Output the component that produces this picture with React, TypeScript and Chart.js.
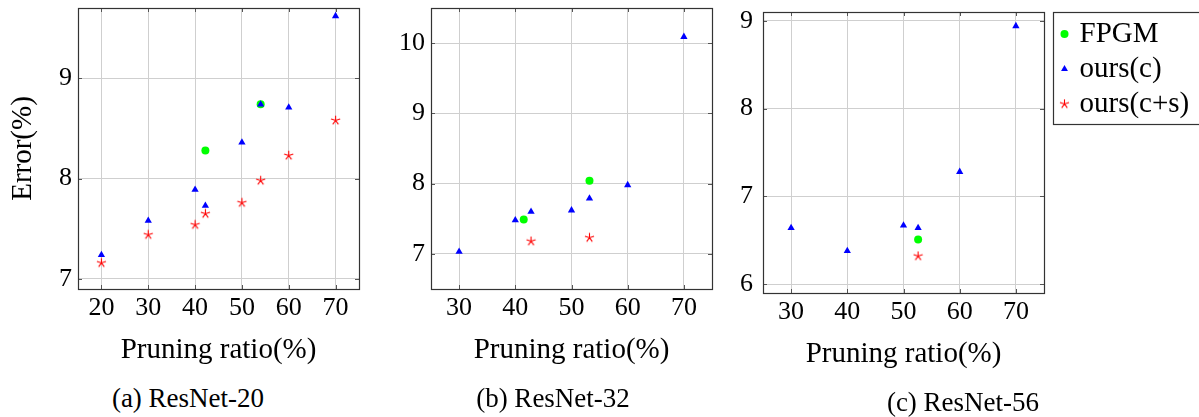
import React, { useEffect, useRef } from 'react';
import { Chart, registerables } from 'chart.js';

Chart.register(...registerables);

const FONT = 'Liberation Serif';

// ---- data ----
const seriesNames = ['FPGM', 'ours(c)', 'ours(c+s)'];
const xTitleText = 'Pruning ratio(%)';
const yTitleText = 'Error(%)';
const captions = ['(a) ResNet-20', '(b) ResNet-32', '(c) ResNet-56'];

// ResNet-20
const r20FpgmX = [42.2, 54];
const r20FpgmY = [8.28, 8.74];
const r20OursCX = [20, 30, 40, 42.2, 50, 54, 60, 70];
const r20OursCY = [7.24, 7.58, 7.89, 7.73, 8.36, 8.74, 8.71, 9.62];
const r20OursCSX = [20, 30, 40, 42.2, 50, 54, 60, 70];
const r20OursCSY = [7.16, 7.44, 7.54, 7.65, 7.76, 7.98, 8.23, 8.58];
const r20XTicks = [20, 30, 40, 50, 60, 70];
const r20YTicks = [7, 8, 9];

// ResNet-32
const r32FpgmX = [41.5, 53.2];
const r32FpgmY = [7.49, 8.04];
const r32OursCX = [30, 40, 42.8, 50, 53.2, 60, 70];
const r32OursCY = [7.03, 7.48, 7.6, 7.62, 7.79, 7.98, 10.09];
const r32OursCSX = [42.8, 53.2];
const r32OursCSY = [7.18, 7.23];
const r32XTicks = [30, 40, 50, 60, 70];
const r32YTicks = [7, 8, 9, 10];

// ResNet-56
const r56FpgmX = [52.6];
const r56FpgmY = [6.51];
const r56OursCX = [30, 40, 50, 52.6, 60, 70];
const r56OursCY = [6.64, 6.38, 6.67, 6.64, 7.28, 8.94];
const r56OursCSX = [52.6];
const r56OursCSY = [6.32];
const r56XTicks = [30, 40, 50, 60, 70];
const r56YTicks = [6, 7, 8, 9];

function pts(xs: number[], ys: number[]) {
  return xs.map((x, i) => ({ x, y: ys[i] }));
}

function makeStar(): HTMLCanvasElement {
  const c = document.createElement('canvas');
  c.width = 11;
  c.height = 11;
  const g = c.getContext('2d')!;
  g.strokeStyle = '#ff0000';
  g.lineWidth = 1.1;
  g.beginPath();
  for (let k = 0; k < 5; k++) {
    const a = -Math.PI / 2 + (k * 2 * Math.PI) / 5;
    g.moveTo(5.5, 5.5);
    g.lineTo(5.5 + 4.8 * Math.cos(a), 5.5 + 4.8 * Math.sin(a));
  }
  g.stroke();
  return c;
}

const framePlugin = {
  id: 'frameBox',
  beforeDatasetsDraw(chart: any) {
    const { ctx, chartArea: a, scales } = chart;
    ctx.save();
    ctx.strokeStyle = '#555';
    ctx.lineWidth = 1;
    ctx.beginPath();
    scales.x.ticks.forEach((t: any) => {
      const px = Math.round(scales.x.getPixelForValue(t.value)) + 0.5;
      ctx.moveTo(px, a.bottom);
      ctx.lineTo(px, a.bottom - 4);
      ctx.moveTo(px, a.top);
      ctx.lineTo(px, a.top + 4);
    });
    scales.y.ticks.forEach((t: any) => {
      const py = Math.round(scales.y.getPixelForValue(t.value)) + 0.5;
      ctx.moveTo(a.left, py);
      ctx.lineTo(a.left + 4, py);
      ctx.moveTo(a.right, py);
      ctx.lineTo(a.right - 4, py);
    });
    ctx.stroke();
    ctx.strokeStyle = '#333';
    ctx.lineWidth = 1.2;
    ctx.strokeRect(a.left + 0.5, a.top + 0.5, a.right - a.left, a.bottom - a.top);
    ctx.restore();
  },
};

const legendPlace = {
  id: 'legendPlace',
  afterUpdate(chart: any) {
    const lg = chart.legend;
    if (!lg) return;
    lg.left = 338;
    lg.top = 13.5;
    lg.right = 479;
    lg.bottom = 384;
    lg.width = lg.right - lg.left;
    lg.height = lg.bottom - lg.top;
  },
  afterDraw(chart: any) {
    const ctx = chart.ctx;
    ctx.save();
    ctx.strokeStyle = '#333';
    ctx.lineWidth = 1.2;
    ctx.strokeRect(333.5, 12.5, 200, 112);
    ctx.restore();
  },
};

interface Panel {
  fx: number[]; fy: number[];
  cx: number[]; cy: number[];
  sx: number[]; sy: number[];
  xMin: number; xMax: number; yMin: number; yMax: number;
  xTicks: number[]; yTicks: number[];
  yAxisWidth: number; padRight: number; padTop: number; xAxisHeight: number;
  yTickPad: number; showYTitle: boolean; showLegend: boolean;
}

function makeConfig(p: Panel, star: HTMLCanvasElement): any {
  const tickFont = { family: FONT, size: 26 };
  const titleFont = { family: FONT, size: 29 };
  return {
    type: 'scatter',
    data: {
      datasets: [
        {
          label: seriesNames[0],
          data: pts(p.fx, p.fy),
          pointStyle: 'circle',
          pointRadius: 4,
          backgroundColor: '#00ff00',
          borderColor: '#00ff00',
          borderWidth: 0,
          order: 1,
        },
        {
          label: seriesNames[1],
          data: pts(p.cx, p.cy),
          pointStyle: 'triangle',
          pointRadius: 4.2,
          backgroundColor: '#0000ff',
          borderColor: '#0000ff',
          borderWidth: 0,
          order: 0,
        },
        {
          label: seriesNames[2],
          data: pts(p.sx, p.sy),
          pointStyle: star,
          pointRadius: 4.5,
          backgroundColor: '#ff0000',
          borderColor: '#ff0000',
          borderWidth: 0,
          order: 0,
        },
      ],
    },
    options: {
      responsive: false,
      animation: false,
      events: [],
      layout: {
        autoPadding: false,
        padding: { left: 0, top: p.padTop, right: p.padRight, bottom: 0 },
      },
      scales: {
        x: {
          type: 'linear',
          min: p.xMin,
          max: p.xMax,
          afterBuildTicks: (s: any) => {
            s.ticks = p.xTicks.map((v) => ({ value: v }));
          },
          afterFit: (s: any) => {
            s.height = p.xAxisHeight;
            s.paddingLeft = 0;
            s.paddingRight = 0;
          },
          grid: { color: '#cfcfcf', lineWidth: 1, drawTicks: false },
          border: { display: false },
          ticks: {
            padding: 4,
            font: tickFont,
            color: '#000',
            maxRotation: 0,
            autoSkip: false,
            callback: (v: any) => String(v),
          },
          title: {
            display: true,
            text: xTitleText,
            font: titleFont,
            color: '#000',
            padding: { top: 0, bottom: 12 },
          },
        },
        y: {
          type: 'linear',
          min: p.yMin,
          max: p.yMax,
          afterBuildTicks: (s: any) => {
            s.ticks = p.yTicks.map((v) => ({ value: v }));
          },
          afterFit: (s: any) => {
            s.width = p.yAxisWidth;
            s.paddingTop = 0;
            s.paddingBottom = 0;
          },
          grid: { color: '#cfcfcf', lineWidth: 1, drawTicks: false },
          border: { display: false },
          ticks: {
            padding: p.yTickPad,
            font: tickFont,
            color: '#000',
            autoSkip: false,
            callback: (v: any) => String(v),
          },
          title: {
            display: p.showYTitle,
            text: yTitleText,
            font: titleFont,
            color: '#000',
            padding: { top: 6, bottom: 0 },
          },
        },
      },
      plugins: {
        tooltip: { enabled: false },
        title: { display: false },
        legend: {
          display: p.showLegend,
          position: 'chartArea',
          align: 'start',
          labels: {
            usePointStyle: true,
            boxWidth: 1,
            boxHeight: 5.66,
            padding: 6,
            font: { family: FONT, size: 29 },
            color: '#000',
            sort: (a: any, b: any) => a.datasetIndex - b.datasetIndex,
          },
        },
      },
    },
    plugins: p.showLegend ? [framePlugin, legendPlace] : [framePlugin],
  };
}

const panels: Panel[] = [
  {
    fx: r20FpgmX, fy: r20FpgmY, cx: r20OursCX, cy: r20OursCY, sx: r20OursCSX, sy: r20OursCSY,
    xMin: 15, xMax: 75, yMin: 6.9, yMax: 9.7, xTicks: r20XTicks, yTicks: r20YTicks,
    yAxisWidth: 78, padRight: 21, padTop: 8, xAxisHeight: 91, yTickPad: 6,
    showYTitle: true, showLegend: false,
  },
  {
    fx: r32FpgmX, fy: r32FpgmY, cx: r32OursCX, cy: r32OursCY, sx: r32OursCSX, sy: r32OursCSY,
    xMin: 25, xMax: 75, yMin: 6.5, yMax: 10.5, xTicks: r32XTicks, yTicks: r32YTicks,
    yAxisWidth: 51, padRight: 18, padTop: 8, xAxisHeight: 91, yTickPad: 6,
    showYTitle: false, showLegend: false,
  },
  {
    fx: r56FpgmX, fy: r56FpgmY, cx: r56OursCX, cy: r56OursCY, sx: r56OursCSX, sy: r56OursCSY,
    xMin: 25, xMax: 75, yMin: 5.9, yMax: 9.1, xTicks: r56XTicks, yTicks: r56YTicks,
    yAxisWidth: 43, padRight: 155, padTop: 12, xAxisHeight: 91, yTickPad: 10,
    showYTitle: false, showLegend: true,
  },
];

const boxes = [
  { left: 0, width: 380, height: 380 },
  { left: 380, width: 350, height: 380 },
  { left: 720, width: 479, height: 384 },
];

const captionPos = [
  { cx: 188, top: 383 },
  { cx: 553, top: 383 },
  { cx: 963, top: 387 },
];

export default function App() {
  const r0 = useRef<HTMLCanvasElement>(null);
  const r1 = useRef<HTMLCanvasElement>(null);
  const r2 = useRef<HTMLCanvasElement>(null);

  useEffect(() => {
    const star = makeStar();
    const refs = [r0, r1, r2];
    const charts = refs.map((r, i) => new Chart(r.current as HTMLCanvasElement, makeConfig(panels[i], star)));
    return () => charts.forEach((c) => c.destroy());
  }, []);

  const refs = [r0, r1, r2];
  return (
    <div style={{ position: 'absolute', left: 0, top: 0, width: 1199, height: 417, background: '#fff', overflow: 'hidden' }}>
      {boxes.map((b, i) => (
        <canvas
          key={i}
          ref={refs[i]}
          width={b.width}
          height={b.height}
          style={{ position: 'absolute', left: b.left, top: 0, width: b.width, height: b.height }}
        />
      ))}
      {captions.map((c, i) => (
        <div
          key={c}
          style={{
            position: 'absolute',
            left: captionPos[i].cx - 150,
            top: captionPos[i].top,
            width: 300,
            textAlign: 'center',
            fontFamily: FONT,
            fontSize: 27,
            lineHeight: '30px',
            color: '#000',
            whiteSpace: 'nowrap',
          }}
        >
          {c}
        </div>
      ))}
    </div>
  );
}
